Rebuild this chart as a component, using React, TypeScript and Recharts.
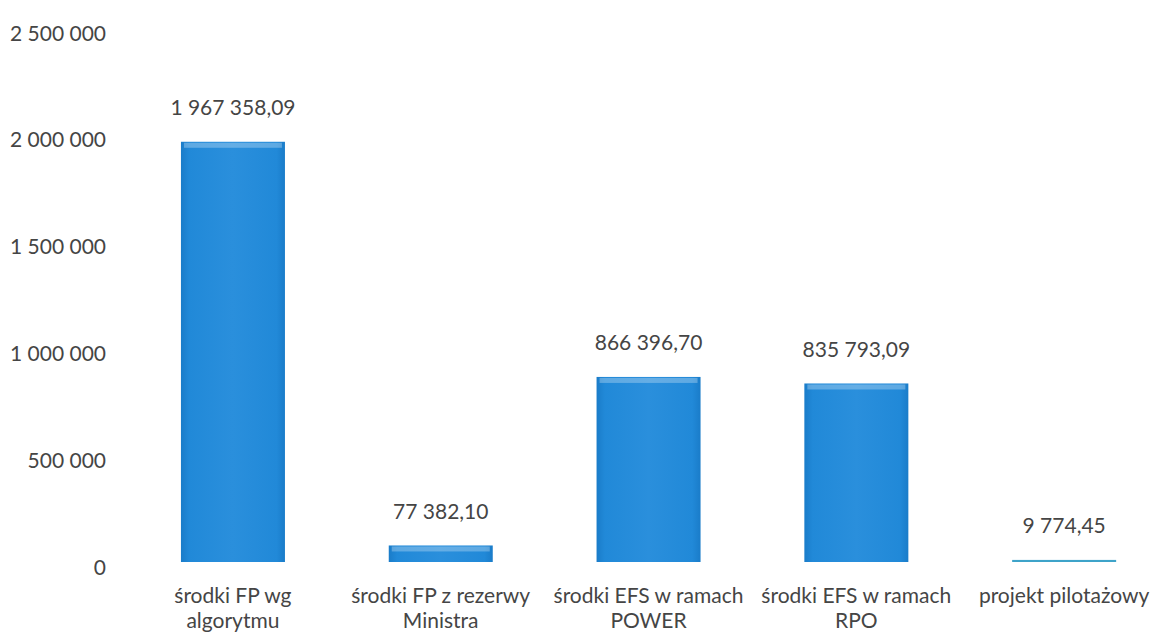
import React from 'react';
import { BarChart, Bar, XAxis, YAxis, LabelList, Cell } from 'recharts';

const categories = [
  'środki FP wg\nalgorytmu',
  'środki FP z rezerwy\nMinistra',
  'środki EFS w ramach\nPOWER',
  'środki EFS w ramach\nRPO',
  'projekt pilotażowy',
];
const amounts = [1967358.09, 77382.1, 866396.7, 835793.09, 9774.45];
const yTicks = [0, 500000, 1000000, 1500000, 2000000, 2500000];

const data = categories.map((name, i) => ({ name, value: amounts[i] }));

const FONT = 'Lato, "Open Sans", sans-serif';
const TEXT = '#454545';

const group = (s: string) => s.replace(/\B(?=(\d{3})+(?!\d))/g, ' ');
const fmtTick = (v: number) => group(String(v));
const fmtValue = (v: number) => {
  const [int, dec] = v.toFixed(2).split('.');
  return `${group(int)},${dec}`;
};

const XTick = (props: any) => {
  const { x, y, payload } = props;
  const lines = String(payload.value).split('\n');
  return (
    <text x={x} y={y + 33} textAnchor="middle" fill={TEXT} fontSize={21} fontFamily={FONT}>
      {lines.map((l, i) => (
        <tspan key={i} x={x} dy={i === 0 ? 0 : 25}>
          {l}
        </tspan>
      ))}
    </text>
  );
};

const YTick = (props: any) => {
  const { x, y, payload } = props;
  return (
    <text x={x} y={y + 4} textAnchor="end" dominantBaseline="central" fill={TEXT} fontSize={21} fontFamily={FONT}>
      {fmtTick(payload.value)}
    </text>
  );
};

const ValueLabel = (props: any) => {
  const { x, y, width, value } = props;
  return (
    <text
      x={x + width / 2}
      y={y - 35}
      textAnchor="middle"
      dominantBaseline="central"
      fill={TEXT}
      fontSize={21}
      fontFamily={FONT}
    >
      {fmtValue(value)}
    </text>
  );
};

// bar with a soft glossy band along the top edge
const GlossBar = (props: any) => {
  const { x, y, width, height, fill } = props;
  if (!height || height <= 0) return null;
  const band = Math.min(5, height);
  return (
    <g>
      <rect x={x} y={y} width={width} height={height} fill={fill} />
      {height > 4 && (
        <rect x={x + 3} y={y + 1} width={width - 6} height={band} fill="#ffffff" fillOpacity={0.28} />
      )}
    </g>
  );
};

export default function App() {
  return (
    <div
      style={{
        position: 'absolute',
        left: 0,
        top: 0,
        width: 1154,
        height: 634,
        overflow: 'hidden',
        background: '#ffffff',
      }}
    >
      <BarChart
        width={1168}
        height={634}
        data={data}
        margin={{ top: 28, right: 0, left: 0, bottom: 0 }}
        barCategoryGap="25%"
      >
        <defs>
          <linearGradient id="barFill" x1="0" y1="0" x2="1" y2="0">
            <stop offset="0%" stopColor="#1a7cc9" />
            <stop offset="8%" stopColor="#2189d8" />
            <stop offset="50%" stopColor="#2a8fdc" />
            <stop offset="92%" stopColor="#2189d8" />
            <stop offset="100%" stopColor="#1a7cc9" />
          </linearGradient>
        </defs>
        <XAxis
          dataKey="name"
          height={72}
          axisLine={false}
          tickLine={false}
          interval={0}
          tick={<XTick />}
        />
        <YAxis
          width={129}
          domain={[0, 2500000]}
          ticks={yTicks}
          axisLine={false}
          tickLine={false}
          tickMargin={17}
          tick={<YTick />}
        />
        <Bar dataKey="value" fill="url(#barFill)" shape={<GlossBar />} isAnimationActive={false}>
          {data.map((d, i) => (
            <Cell key={i} fill={i === data.length - 1 ? '#3ea3c9' : 'url(#barFill)'} />
          ))}
          <LabelList dataKey="value" content={<ValueLabel />} />
        </Bar>
      </BarChart>
    </div>
  );
}
